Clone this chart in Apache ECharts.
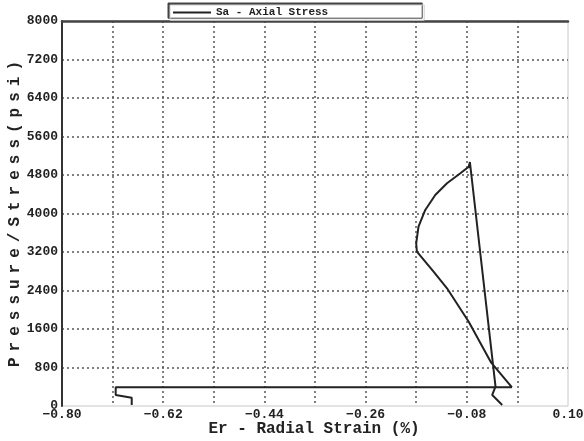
<!DOCTYPE html>
<html>
<head>
<meta charset="utf-8">
<title>Sa - Axial Stress</title>
<script src="https://cdn.jsdelivr.net/npm/echarts@6/dist/echarts.min.js"></script>
<style>
  html, body { margin: 0; padding: 0; background: #fff; }
  #chart { width: 584px; height: 441px; }
</style>
</head>
<body>
<div id="chart"></div>
<script>
// Er - Radial Strain (%) vs Sa - Axial Stress (psi)
var strain = [-0.676, -0.676, -0.679, -0.7045, -0.7045, 0.000, -0.0366, -0.0766, -0.1152, -0.1391,
              -0.1688, -0.170, -0.1659, -0.1539, -0.1361, -0.1152, -0.0914, -0.0766, -0.0748,
              -0.0771, -0.0745, -0.0289, -0.0348, -0.0259, -0.0170];
var stress = [20, 170, 208, 229, 390, 390, 900, 1752, 2446, 2791,
              3206, 3381, 3726, 4073, 4385, 4628, 4836, 4973, 5043,
              4946, 5070, 401, 229, 125, 21];

// axis ticks
var xGrid = [-0.80, -0.71, -0.62, -0.53, -0.44, -0.35, -0.26, -0.17, -0.08, 0.01, 0.10];
var xLabels = [-0.80, -0.62, -0.44, -0.26, -0.08, 0.10];
var yMin = 0, yMax = 8000, yStep = 800;

var points = strain.map(function (v, i) { return [v, stress[i]]; });

var mono = 'Liberation Mono';
var dark = '#222';

// spaced-out y title, narrower gaps between the letters
var yTitle = 'Pressure/Stress(psi)'.split('').join('{g| }');

var myChart = echarts.init(document.getElementById('chart'));

var option = {
    animation: false,
    backgroundColor: '#fff',
    grid: {
        left: 62, right: 16, top: 21, bottom: 35,
        outerBoundsMode: 'none',
        containLabel: false,
        show: true,
        borderColor: '#c8c8c8',
        borderWidth: 1
    },
    legend: {
        left: 170, top: 5,
        padding: [2, 96, 2, 2],
        itemWidth: 38, itemHeight: 14, itemGap: 5,
        backgroundColor: '#fff',
        borderColor: '#cfcfcf', borderWidth: 1,
        shadowColor: '#444', shadowBlur: 0, shadowOffsetX: -2, shadowOffsetY: -2,
        itemStyle: { opacity: 0 },
        lineStyle: { color: dark, width: 2 },
        textStyle: { fontFamily: mono, fontWeight: 'bold', fontSize: 11, color: dark },
        data: ['Sa - Axial Stress']
    },
    // axis titles
    graphic: [{
        type: 'text',
        x: 314, y: 429,
        style: {
            text: 'Er - Radial Strain (%)',
            fill: dark,
            font: 'bold 16px "Liberation Mono"',
            align: 'center', verticalAlign: 'middle'
        }
    }, {
        type: 'text',
        x: 15, y: 214,
        rotation: Math.PI / 2,
        style: {
            text: yTitle,
            fill: dark,
            font: 'bold 16px "Liberation Mono"',
            align: 'center', verticalAlign: 'middle',
            rich: { g: { font: 'bold 10px "Liberation Mono"' } }
        }
    }],
    xAxis: [{
        type: 'value',
        min: -0.80, max: 0.10,
        axisLine: { show: false },
        axisTick: { show: false, customValues: xGrid },
        axisLabel: {
            customValues: xLabels,
            margin: 2,
            fontFamily: mono, fontWeight: 'bold', fontSize: 13, color: dark,
            formatter: function (v) { return v.toFixed(2).replace('-', '\u2212'); }
        },
        splitLine: {
            show: true, showMinLine: false, showMaxLine: false,
            lineStyle: { color: '#555', width: 1.5, type: [2, 3] }
        }
    }, {
        type: 'value',
        position: 'top',
        min: -0.80, max: 0.10,
        axisLine: { show: true, onZero: false, lineStyle: { color: '#444', width: 2.5 } },
        axisTick: { show: false },
        axisLabel: { show: false },
        splitLine: { show: false }
    }],
    yAxis: {
        type: 'value',
        min: yMin, max: yMax, interval: yStep,
        axisLine: { show: true, onZero: false, lineStyle: { color: '#333', width: 2 } },
        axisTick: { show: false },
        axisLabel: {
            margin: 4, fontFamily: mono, fontWeight: 'bold', fontSize: 13, color: dark,
            formatter: function (v) { return String(v); }
        },
        splitLine: {
            show: true, showMinLine: false, showMaxLine: false,
            lineStyle: { color: '#555', width: 1.5, type: [2, 3] }
        }
    },
    series: [{
        name: 'Sa - Axial Stress',
        type: 'line',
        xAxisIndex: 0,
        symbol: 'none',
        smooth: false,
        lineStyle: { color: dark, width: 2 },
        itemStyle: { color: dark },
        data: points
    }]
};

myChart.setOption(option);
</script>
</body>
</html>
